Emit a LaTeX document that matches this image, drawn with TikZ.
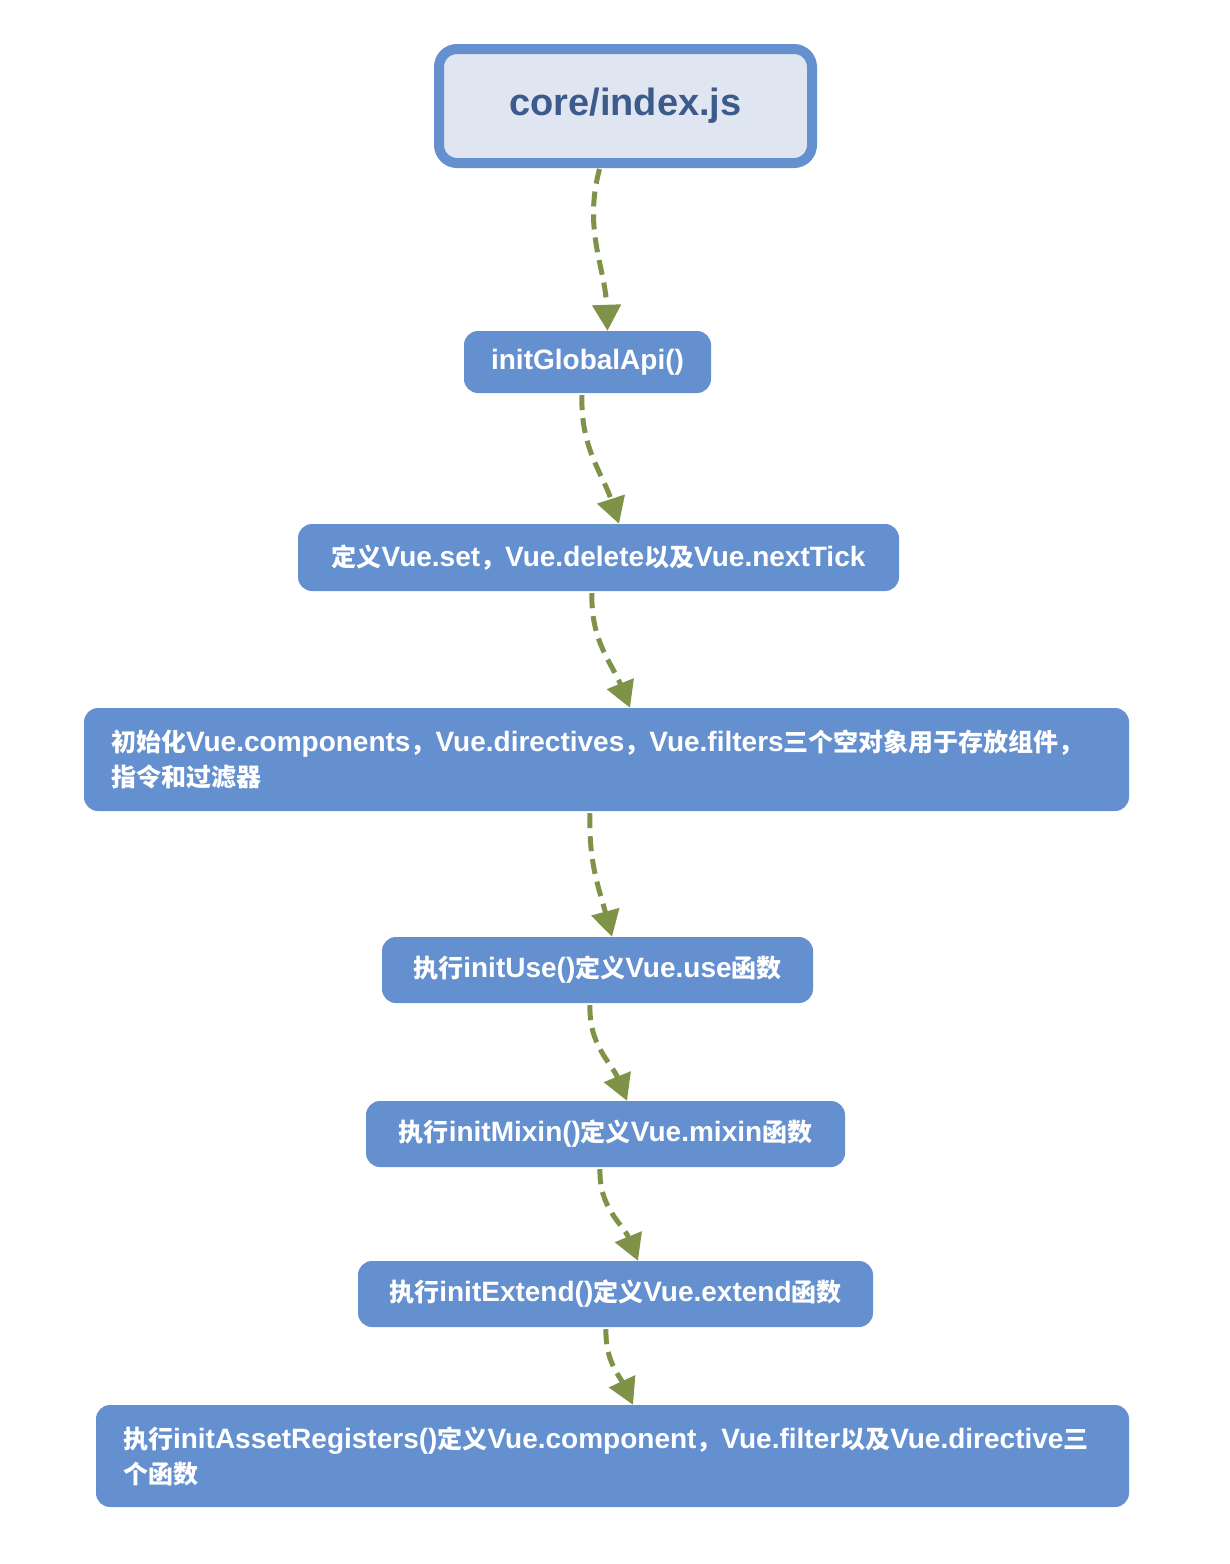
\documentclass[tikz,border=0pt]{standalone}
\usepackage{fontspec}
\setmainfont{Liberation Sans}
\newfontfamily\cjkfont{Noto Sans CJK SC Bold}
\newcommand\zh[1]{{\cjkfont\fontsize{25}{35}\selectfont #1}}
\usetikzlibrary{arrows.meta}
\definecolor{boxblue}{RGB}{101,144,207}
\definecolor{topfill}{RGB}{223,230,241}
\definecolor{toptext}{RGB}{61,90,140}
\definecolor{olive}{RGB}{126,146,72}
\tikzset{
  stepbox/.style={rounded corners=14pt, fill=boxblue, draw=none, text=white, inner sep=0pt,
    font=\bfseries\fontsize{28}{35}\selectfont},
  topbox/.style={rounded corners=18pt, fill=topfill, draw=boxblue, line width=10pt, text=toptext,
    inner sep=0pt, font=\bfseries\fontsize{38}{42}\selectfont},
  flow/.style={draw=olive, line width=5pt, dash pattern=on 15pt off 8pt,
    -{Triangle[length=26pt,width=28pt,fill=olive]}}
}
\begin{document}
\begin{tikzpicture}[x=1pt,y=1pt]
\useasboundingbox (0,0) rectangle (1230,-1564);
\node[topbox, minimum width=373pt, minimum height=114pt] (n1) at (625.5,-106) {core/index.js};
\node[stepbox, minimum width=247pt, minimum height=62pt] (n2) at (587.5,-362) {initGlobalApi()};
\node[stepbox, minimum width=601pt, minimum height=67pt] (n3) at (598.5,-557.5) {\zh{定义}Vue.set\zh{，}Vue.delete\zh{以及}Vue.nextTick};
\node[stepbox, minimum height=103pt, inner xsep=27pt, text width=991pt, align=left] (n4) at (606.5,-759.5)
  {\zh{初始化}Vue.components\zh{，}Vue.directives\zh{，}Vue.filters\zh{三个空对象用于存放组件，}\\\zh{指令和过滤器}};
\node[stepbox, minimum width=431pt, minimum height=66pt] (n5) at (597.5,-970) {\zh{执行}initUse()\zh{定义}Vue.use\zh{函数}};
\node[stepbox, minimum width=479pt, minimum height=66pt] (n6) at (605.5,-1134) {\zh{执行}initMixin()\zh{定义}Vue.mixin\zh{函数}};
\node[stepbox, minimum width=515pt, minimum height=66pt] (n7) at (615.5,-1294) {\zh{执行}initExtend()\zh{定义}Vue.extend\zh{函数}};
\node[stepbox, minimum height=102pt, inner xsep=27pt, text width=979pt, align=left] (n8) at (612.5,-1456)
  {\zh{执行}initAssetRegisters()\zh{定义}Vue.component\zh{，}Vue.filter\zh{以及}Vue.directive\zh{三}\\\zh{个函数}};
\draw[flow] ([xshift=-26pt,yshift=-1pt]n1.south) to[out=-105,in=92] ([xshift=20pt]n2.north);
\draw[flow] ([xshift=-5.5pt,yshift=-2pt]n2.south) to[out=-92,in=108] ([xshift=20.5pt]n3.north);
\draw[flow] ([xshift=-6.5pt,yshift=-2pt]n3.south) to[out=-92,in=112] ([xshift=23.5pt]n4.north);
\draw[flow] ([xshift=-16.5pt,yshift=-2pt]n4.south) to[out=-92,in=105] ([xshift=14.5pt]n5.north);
\draw[flow] ([xshift=-7.5pt,yshift=-2pt]n5.south) to[out=-92,in=112] ([xshift=21.5pt]n6.north);
\draw[flow] ([xshift=-5.5pt,yshift=-2pt]n6.south) to[out=-92,in=112] ([xshift=22.5pt]n7.north);
\draw[flow] ([xshift=-9.5pt,yshift=-2pt]n7.south) to[out=-92,in=115] ([xshift=20.5pt]n8.north);
\end{tikzpicture}
\end{document}
